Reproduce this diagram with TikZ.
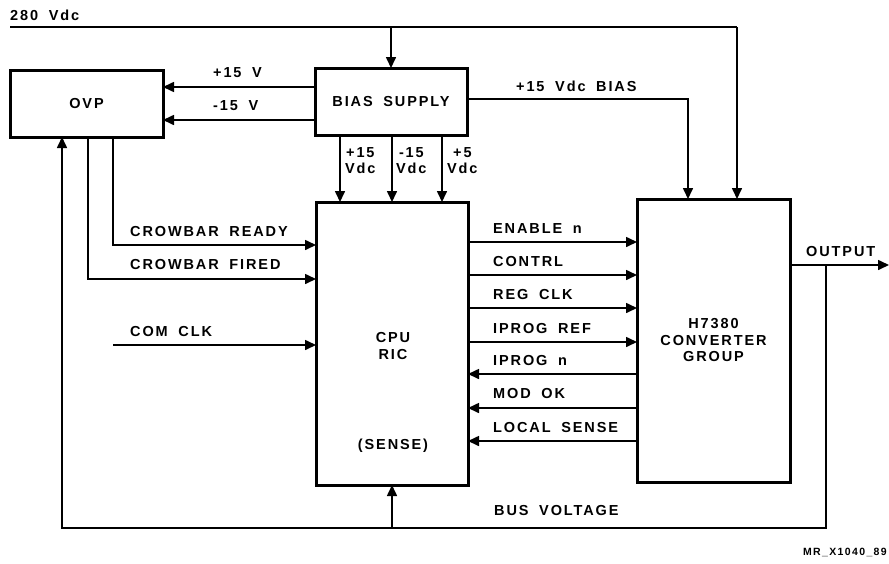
\documentclass[tikz,border=0pt]{standalone}
\usepackage{fontspec}
\setmainfont{Liberation Sans}[LetterSpace=13,WordSpace=1.8]
\usetikzlibrary{arrows.meta}
\begin{document}
\begin{tikzpicture}[x=1pt,y=-1pt,
  blk/.style 2 args={draw,line width=3pt,inner sep=0pt,outer sep=0pt,
     minimum width=#1,minimum height=#2,align=center,font=\lbl},
  wire/.style={line width=1.6pt},
  arr/.style={wire,-{Triangle[length=11pt,width=10pt]}},
  lab/.style={anchor=base west,inner sep=0pt,font=\lbl},
  vlab/.style={anchor=north west,inner sep=0pt,align=center,font=\lbl,text depth=0pt}]
\newcommand{\lbl}{\bfseries\fontsize{14.5}{16.5}\selectfont}
\useasboundingbox (0,0) rectangle (889,563);

% blocks
\node[blk={153pt}{67pt}] (ovp) at (86.5,103.5) {OVP};
\node[blk={152pt}{67pt}] (bias) at (391,101.5) {BIAS SUPPLY};
\node[blk={152pt}{283pt}] (cpu) at (392,343.5) {};
\node[blk={153pt}{283pt}] (conv) at (713.5,340.5) {H7380\\CONVERTER\\GROUP};

% texts inside CPU
\node[font=\lbl,align=center,inner sep=0pt] (cputxt) at (393,346) {CPU\\RIC};
\node[font=\lbl,inner sep=0pt] (sense) at (393,446) {(SENSE)};

% 280 Vdc feed
\coordinate (p280) at (10,27);
\coordinate (t280) at (737,27);
\node[lab] (l280) at (10,20) {280 Vdc};
\draw[wire] (p280) -- (t280);
\draw[arr] (t280) -- (conv.north -| t280);
\draw[arr] (bias.north |- p280) -- (bias.north);

% bias to OVP
\draw[arr] (bias.west |- 0,87) -- (ovp.east |- 0,87);
\draw[arr] (bias.west |- 0,120) -- (ovp.east |- 0,120);
\node[lab] (lp15) at (213,77) {+15 V};
\node[lab] (lm15) at (213,110) {-15 V};

% bias to CPU
\draw[arr] (bias.south -| 340,0) -- (cpu.north -| 340,0);
\draw[arr] (bias.south -| 392,0) -- (cpu.north -| 392,0);
\draw[arr] (bias.south -| 442,0) -- (cpu.north -| 442,0);
\node[vlab] (v1) at (345,147) {+15\\Vdc};
\node[vlab] (v2) at (396,147) {-15\\Vdc};
\node[vlab] (v3) at (447,147) {+5\\Vdc};

% bias to converter
\draw[arr] (bias.east |- 0,99) -| (conv.north -| 688,0);
\node[lab] (lbias) at (516,91) {+15 Vdc BIAS};

% OVP to CPU
\draw[arr] (ovp.south -| 113,0) |- (cpu.west |- 0,245);
\draw[arr] (ovp.south -| 88,0) |- (cpu.west |- 0,279);
\node[lab] (lcr) at (130,236) {CROWBAR READY};
\node[lab] (lcf) at (130,269) {CROWBAR FIRED};

% COM CLK
\coordinate (clk) at (113,345);
\draw[arr] (clk) -- (cpu.west |- clk);
\node[lab] (lclk) at (130,336) {COM CLK};

% CPU <-> converter
\draw[arr] (cpu.east |- 0,242) -- (conv.west |- 0,242);
\draw[arr] (cpu.east |- 0,275) -- (conv.west |- 0,275);
\draw[arr] (cpu.east |- 0,308) -- (conv.west |- 0,308);
\draw[arr] (cpu.east |- 0,342) -- (conv.west |- 0,342);
\draw[arr] (conv.west |- 0,374) -- (cpu.east |- 0,374);
\draw[arr] (conv.west |- 0,408) -- (cpu.east |- 0,408);
\draw[arr] (conv.west |- 0,441) -- (cpu.east |- 0,441);
\node[lab] (s1) at (493,233) {ENABLE n};
\node[lab] (s2) at (493,266) {CONTRL};
\node[lab] (s3) at (493,299) {REG CLK};
\node[lab] (s4) at (493,333) {IPROG REF};
\node[lab] (s5) at (493,365) {IPROG n};
\node[lab] (s6) at (493,398) {MOD OK};
\node[lab] (s7) at (493,432) {LOCAL SENSE};

% output and bus voltage
\coordinate (out) at (889,265);
\coordinate (tap) at (826,265);
\coordinate (bus) at (62,528);
\draw[arr] (conv.east |- out) -- (out);
\node[lab] (lout) at (806,256) {OUTPUT};
\draw[arr] (tap) |- (bus) -- (ovp.south -| bus);
\draw[arr] (cpu.south |- bus) -- (cpu.south);
\node[lab] (lbus) at (494,515) {BUS VOLTAGE};

% figure id
\node[anchor=base east,inner sep=0pt,font=\bfseries\fontsize{10.5}{12}\selectfont] (fid) at (887,555) {MR\_X1040\_89};
\end{tikzpicture}
\end{document}
